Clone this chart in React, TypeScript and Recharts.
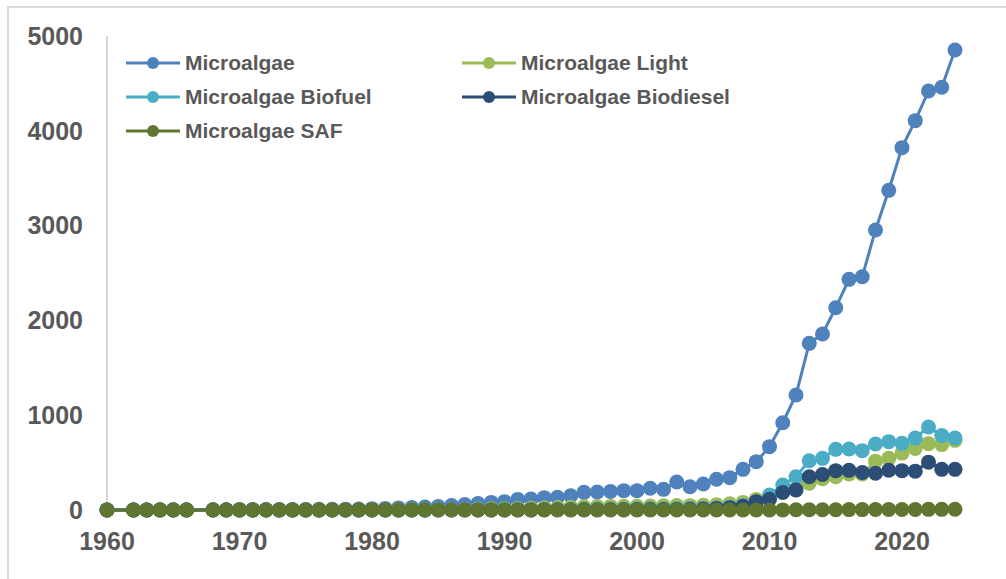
import { LineChart, Line, XAxis, YAxis, Legend } from "recharts";

// publication years (1961 and 1967 have no entries)
const years = [
  1960, 1962, 1963, 1964, 1965, 1966, 1968, 1969, 1970, 1971, 1972, 1973,
  1974, 1975, 1976, 1977, 1978, 1979, 1980, 1981, 1982, 1983, 1984, 1985,
  1986, 1987, 1988, 1989, 1990, 1991, 1992, 1993, 1994, 1995, 1996, 1997,
  1998, 1999, 2000, 2001, 2002, 2003, 2004, 2005, 2006, 2007, 2008, 2009,
  2010, 2011, 2012, 2013, 2014, 2015, 2016, 2017, 2018, 2019, 2020, 2021,
  2022, 2023, 2024,
];

const microalgae = [
  1, 1, 1, 2, 2, 2, 3, 3, 4, 4, 5, 5,
  6, 6, 7, 8, 9, 11, 14, 17, 22, 26, 32, 38,
  48, 58, 68, 80, 88, 112, 115, 130, 135, 150, 186, 190,
  195, 204, 204, 230, 218, 295, 246, 274, 324, 341, 429, 510,
  668, 921, 1213, 1758, 1857, 2134, 2433, 2461, 2954, 3372, 3822, 4107,
  4420, 4459, 4852,
];

const light = [
  0, 0, 0, 0, 0, 0, 0, 0, 0, 0, 0, 0,
  0, 0, 1, 1, 2, 2, 3, 3, 4, 4, 5, 5,
  6, 8, 10, 12, 14, 17, 20, 23, 26, 30, 34, 36,
  38, 40, 40, 42, 44, 48, 46, 50, 55, 65, 80, 110,
  150, 190, 230, 282, 330, 351, 380, 380, 515, 545, 600, 650,
  700, 690, 735,
];

const biofuel = [
  0, 0, 0, 0, 0, 0, 0, 0, 0, 0, 0, 0,
  0, 0, 0, 0, 0, 0, 1, 1, 1, 1, 1, 2,
  2, 2, 3, 3, 3, 4, 4, 5, 5, 6, 7, 8,
  9, 10, 11, 12, 12, 14, 15, 18, 22, 30, 45, 75,
  158, 264, 351, 520, 545, 640, 643, 626, 696, 721, 703, 760,
  875, 785, 760,
];

const biodiesel = [
  0, 0, 0, 0, 0, 0, 0, 0, 0, 0, 0, 0,
  0, 0, 0, 0, 0, 0, 0, 0, 0, 0, 0, 0,
  0, 1, 1, 1, 1, 1, 1, 2, 2, 2, 2, 3,
  3, 3, 4, 4, 5, 6, 7, 10, 15, 25, 40, 88,
  113, 185, 211, 351, 375, 415, 418, 395, 387, 420, 415, 410,
  505, 429, 429,
];

const saf = [
  0, 0, 0, 0, 0, 0, 0, 0, 0, 0, 0, 0,
  0, 0, 0, 0, 0, 0, 0, 0, 0, 0, 0, 0,
  0, 0, 0, 0, 0, 0, 0, 0, 0, 0, 0, 0,
  0, 0, 0, 0, 0, 0, 0, 0, 0, 0, 0, 0,
  1, 1, 2, 2, 3, 3, 4, 4, 5, 5, 6, 6,
  7, 7, 8,
];

const xTicks = [1960, 1970, 1980, 1990, 2000, 2010, 2020];
const yTicks = [0, 1000, 2000, 3000, 4000, 5000];

const series = [
  { key: "microalgae", name: "Microalgae", color: "#4F81BD" },
  { key: "light", name: "Microalgae Light", color: "#9BBB59" },
  { key: "biofuel", name: "Microalgae Biofuel", color: "#4BACC6" },
  { key: "biodiesel", name: "Microalgae Biodiesel", color: "#2C4D75" },
  { key: "saf", name: "Microalgae SAF", color: "#5F7530" },
];

const data = years.map((year, i) => ({
  year,
  microalgae: microalgae[i],
  light: light[i],
  biofuel: biofuel[i],
  biodiesel: biodiesel[i],
  saf: saf[i],
}));

const font = "'Liberation Sans', Arial, sans-serif";
const textColor = "#595959";
const tickStyle = { fill: textColor, fontSize: 25, fontWeight: 700, fontFamily: font };

const LegendGrid = ({ payload }: any) => {
  const items = [...(payload || [])].sort(
    (a: any, b: any) =>
      series.findIndex((s) => s.name === a.value) -
      series.findIndex((s) => s.name === b.value)
  );
  return (
    <div style={{ display: "grid", gridTemplateColumns: "336px 336px" }}>
      {items.map((entry: any) => (
        <div
          key={entry.value}
          style={{ display: "flex", alignItems: "center", height: 34.4 }}
        >
          <svg width={54} height={14}>
            <line x1={0} x2={54} y1={7} y2={7} stroke={entry.color} strokeWidth={3} />
            <circle cx={27} cy={7} r={6} fill={entry.color} />
          </svg>
          <span
            style={{
              marginLeft: 5,
              fontFamily: font,
              fontWeight: 700,
              fontSize: 21,
              color: textColor,
              whiteSpace: "nowrap",
            }}
          >
            {entry.value}
          </span>
        </div>
      ))}
    </div>
  );
};

export default function App() {
  return (
    <div
      style={{
        position: "absolute",
        left: 0,
        top: 0,
        width: 1006,
        height: 579,
        overflow: "hidden",
        background: "#fff",
      }}
    >
      <div
        style={{
          position: "absolute",
          left: 7,
          top: 6,
          width: 1100,
          height: 700,
          border: "2px solid #d9d9d9",
        }}
      />
      <div style={{ position: "absolute", left: 0, top: 0 }}>
        <LineChart
          width={1100}
          height={579}
          data={data}
          margin={{ top: 36, right: 65.5, bottom: 39, left: 0 }}
        >
          <XAxis
            dataKey="year"
            type="number"
            domain={[1960, 2030]}
            ticks={xTicks}
            axisLine={false}
            tickLine={false}
            tickSize={0}
            tickMargin={22}
            height={30}
            tick={tickStyle}
          />
          <YAxis
            type="number"
            domain={[0, 5000]}
            ticks={yTicks}
            axisLine={{ stroke: "#c9c9c9", strokeWidth: 1.5 }}
            tickLine={false}
            tickSize={0}
            tickMargin={24}
            width={107}
            tick={tickStyle}
          />
          <Legend
            layout="horizontal"
            verticalAlign="middle"
            align="center"
            content={<LegendGrid />}
            wrapperStyle={{ position: "absolute", left: 126, top: 45.5, width: 680 }}
          />
          {series.map((s) => (
            <Line
              key={s.key}
              type="linear"
              dataKey={s.key}
              name={s.name}
              stroke={s.color}
              strokeWidth={3}
              dot={{ r: 7.5, fill: s.color, stroke: s.color, strokeWidth: 0 }}
              activeDot={false}
              isAnimationActive={false}
            />
          ))}
        </LineChart>
      </div>
    </div>
  );
}
